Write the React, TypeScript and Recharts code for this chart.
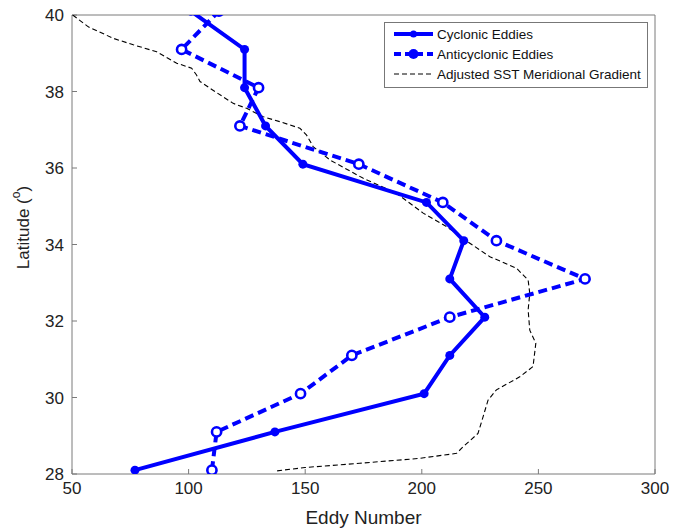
import React from 'react';
import { ScatterChart, Scatter, XAxis, YAxis, Legend } from 'recharts';

// ---- data ----
const seriesNames = ['Cyclonic Eddies', 'Anticyclonic Eddies', 'Adjusted SST Meridional Gradient'];

const cyclonicLat = [28.1, 29.1, 30.1, 31.1, 32.1, 33.1, 34.1, 35.1, 36.1, 37.1, 38.1, 39.1, 40.1];
const cyclonicCount = [77, 137, 201, 212, 227, 212, 218, 202, 149, 133, 124, 124, 101];

const anticyclonicLat = [28.1, 29.1, 30.1, 31.1, 32.1, 33.1, 34.1, 35.1, 36.1, 37.1, 38.1, 39.1, 40.1];
const anticyclonicCount = [110, 112, 148, 170, 212, 270, 232, 209, 173, 122, 130, 97, 113];

const sstLat = [
  40.0, 39.69, 39.39, 39.22, 39.04, 38.74, 38.61, 38.43, 38.26, 38.0, 37.69, 37.56, 37.34, 37.21,
  37.04, 36.86, 36.56, 36.21, 35.73, 35.34, 34.82, 34.47, 34.12, 33.68, 33.38, 33.07, 32.72, 32.29,
  31.76, 31.42, 30.81, 30.54, 30.2, 29.93, 29.5, 29.06, 28.71, 28.54, 28.41, 28.28, 28.17, 28.08,
];
const sstCount = [
  50.3, 57, 67.7, 76.3, 86.3, 94.9, 101.3, 103.4, 104.9, 111.3, 119.1, 124.9, 132, 139.2,
  147.7, 150.6, 153.4, 160.6, 174.9, 189.1, 200.6, 210.6, 218.5, 229.2, 240.6, 245.6, 246.3, 245.6,
  246.3, 248.9, 247.7, 242, 232, 228.4, 226.3, 224.1, 217.7, 214.9, 199.2, 173.4, 149.9, 137.7,
];

const xTicks = [50, 100, 150, 200, 250, 300];
const yTicks = [28, 30, 32, 34, 36, 38, 40];

const cyclonic = cyclonicLat.map((lat, i) => ({ lat, count: cyclonicCount[i] }));
const anticyclonic = anticyclonicLat.map((lat, i) => ({ lat, count: anticyclonicCount[i] }));
const sst = sstLat.map((lat, i) => ({ lat, count: sstCount[i] }));

// ---- style ----
const BLUE = '#0000ff';
const AXIS = '#7a7a7a';
const FONT = '"Liberation Sans", Arial, Helvetica, sans-serif';
const tickStyle = { fill: '#222', fontSize: 17, fontFamily: FONT };

const CycDot = (p: any) => <circle cx={p.cx} cy={p.cy} r={4.5} fill={BLUE} />;
const AntiDot = (p: any) => (
  <circle cx={p.cx} cy={p.cy} r={4.6} fill="#fff" stroke={BLUE} strokeWidth={2.6} />
);
const NoDot = () => <g />;

const YLabel = (props: any) => {
  const vb = props.viewBox || { x: 0, y: 0, width: 0, height: 0 };
  const cx = vb.x + 23;
  const cy = vb.y + vb.height / 2 - 17;
  return (
    <text
      transform={`translate(${cx},${cy}) rotate(-90)`}
      textAnchor="middle"
      dominantBaseline="central"
      fill="#222"
      fontSize={17}
      fontFamily={FONT}
    >
      Latitude (<tspan fontSize={12} dy={-7}>o</tspan>
      <tspan dy={7}>)</tspan>
    </text>
  );
};

const XLabel = (props: any) => {
  const vb = props.viewBox || { x: 0, y: 0, width: 0, height: 0 };
  return (
    <text
      x={vb.x + vb.width / 2}
      y={vb.y + 50}
      textAnchor="middle"
      fill="#222"
      fontSize={19}
      fontFamily={FONT}
    >
      Eddy Number
    </text>
  );
};

const LegendBox = () => {
  const rows = [
    { dash: undefined, width: 4, marker: 'filled' },
    { dash: '7 4', width: 4, marker: 'big' },
    { dash: '5 3', width: 1, marker: 'none' },
  ];
  return (
    <div
      style={{
        border: '1px solid #777',
        background: '#fff',
        width: 262,
        height: 63,
        boxSizing: 'content-box',
        paddingTop: 1,
        fontFamily: FONT,
      }}
    >
      {rows.map((r, i) => (
        <div key={i} style={{ display: 'flex', alignItems: 'center', height: 20 }}>
          <svg width={52} height={20} style={{ display: 'block' }}>
            <line
              x1={9}
              x2={48}
              y1={10}
              y2={10}
              stroke={i === 2 ? '#000' : BLUE}
              strokeWidth={r.width}
              strokeDasharray={r.dash}
            />
            {r.marker === 'filled' && <circle cx={28.5} cy={10} r={3.5} fill={BLUE} />}
            {r.marker === 'big' && <circle cx={28.5} cy={10} r={5} fill={BLUE} />}
          </svg>
          <span style={{ fontSize: 13.5, color: '#111', whiteSpace: 'nowrap' }}>{seriesNames[i]}</span>
        </div>
      ))}
    </div>
  );
};

export default function App() {
  return (
    <div style={{ position: 'absolute', left: 0, top: 0, background: '#fff' }}>
      <ScatterChart width={682} height={531} margin={{ top: 14, right: 26, bottom: 0, left: 0 }}>
        <XAxis
          xAxisId="b"
          type="number"
          dataKey="count"
          domain={[50, 300]}
          ticks={xTicks}
          allowDataOverflow
          height={57}
          stroke={AXIS}
          tickSize={-5}
          tickMargin={13}
          tick={tickStyle}
          label={<XLabel />}
        />
        <XAxis
          xAxisId="t"
          orientation="top"
          type="number"
          dataKey="count"
          domain={[50, 300]}
          ticks={xTicks}
          allowDataOverflow
          height={1}
          stroke={AXIS}
          tickSize={-5}
          tick={false}
        />
        <YAxis
          yAxisId="l"
          type="number"
          dataKey="lat"
          domain={[28, 40]}
          ticks={yTicks}
          allowDataOverflow
          width={72}
          stroke={AXIS}
          tickSize={-5}
          tickMargin={13}
          tick={tickStyle}
          label={<YLabel />}
        />
        <YAxis
          yAxisId="r"
          orientation="right"
          type="number"
          dataKey="lat"
          domain={[28, 40]}
          ticks={yTicks}
          allowDataOverflow
          width={1}
          stroke={AXIS}
          tickSize={-5}
          tick={false}
        />
        <Legend
          layout="vertical"
          align="center"
          verticalAlign="middle"
          content={<LegendBox />}
          wrapperStyle={{ left: 384, top: 22, width: 264, height: 65 }}
        />
        <Scatter
          data={cyclonic}
          xAxisId="t"
          yAxisId="r"
          fill="none"
          shape={NoDot}
          legendType="none"
          isAnimationActive={false}
        />
        <Scatter
          name={seriesNames[2]}
          data={sst}
          xAxisId="b"
          yAxisId="l"
          fill="#000"
          line={{ stroke: '#000', strokeWidth: 1.1, strokeDasharray: '5 3' }}
          shape={NoDot}
          isAnimationActive={false}
        />
        <Scatter
          name={seriesNames[0]}
          data={cyclonic}
          xAxisId="b"
          yAxisId="l"
          fill={BLUE}
          line={{ stroke: BLUE, strokeWidth: 4 }}
          shape={CycDot}
          isAnimationActive={false}
        />
        <Scatter
          name={seriesNames[1]}
          data={anticyclonic}
          xAxisId="b"
          yAxisId="l"
          fill={BLUE}
          line={{ stroke: BLUE, strokeWidth: 4, strokeDasharray: '9 5' }}
          shape={AntiDot}
          isAnimationActive={false}
        />
      </ScatterChart>
    </div>
  );
}
